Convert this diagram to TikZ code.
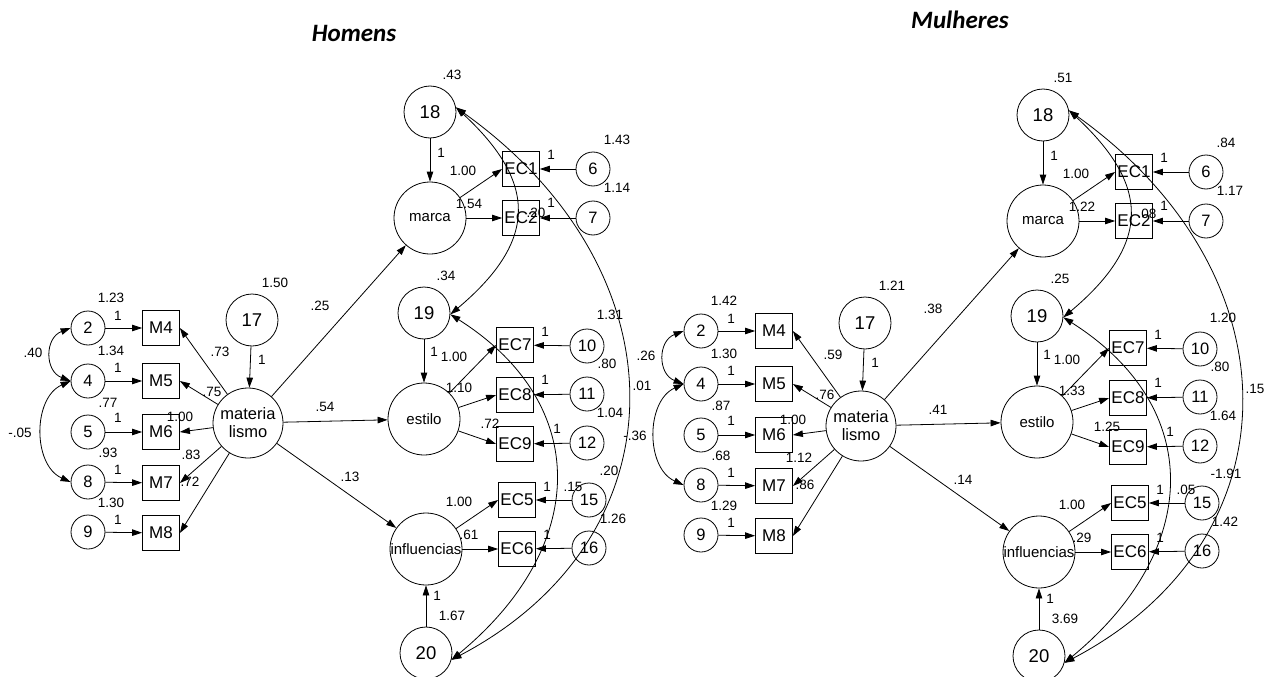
\documentclass[tikz,border=0pt]{standalone}
\usepackage{fontspec}
\setmainfont{Liberation Sans}
\newfontfamily\titlefont{Carlito}
\usetikzlibrary{arrows.meta}

\newcommand{\semmodel}[1]{%
  \node[err] (#1e2) at (88,328) {2};
  \node[err] (#1e4) at (88,381) {4};
  \node[err] (#1e5) at (88,432) {5};
  \node[err] (#1e8) at (88,482) {8};
  \node[err] (#1e9) at (88,532) {9};
  \node[obs] (#1M4) at (161,328) {M4};
  \node[obs] (#1M5) at (161,381) {M5};
  \node[obs] (#1M6) at (161,432) {M6};
  \node[obs] (#1M7) at (161,483) {M7};
  \node[obs] (#1M8) at (161,533) {M8};
  \node[lat, minimum size=70pt, font=\fontsize{16.5}{18}\selectfont] (#1mat) at (248,423) {materia\\lismo};
  \node[dist] (#1d17) at (252,320) {17};
  \node[dist] (#1d18) at (430,112) {18};
  \node[lat] (#1marca) at (430,218) {marca};
  \node[obs] (#1EC1) at (521,169) {EC1};
  \node[obs] (#1EC2) at (521,218) {EC2};
  \node[err] (#1e6) at (593,169) {6};
  \node[err] (#1e7) at (593,218) {7};
  \node[dist] (#1d19) at (424,313) {19};
  \node[lat] (#1estilo) at (424,419) {estilo};
  \node[obs] (#1EC7) at (515,345) {EC7};
  \node[obs] (#1EC8) at (515,395) {EC8};
  \node[obs] (#1EC9) at (515,444) {EC9};
  \node[err] (#1e10) at (587,346) {10};
  \node[err] (#1e11) at (587,394) {11};
  \node[err] (#1e12) at (587,443) {12};
  \node[lat] (#1inf) at (426,549) {influencias};
  \node[obs] (#1EC5) at (517,500) {EC5};
  \node[obs] (#1EC6) at (517,549) {EC6};
  \node[err] (#1e15) at (589,500) {15};
  \node[err] (#1e16) at (589,548) {16};
  \node[dist] (#1d20) at (426,653) {20};

  \draw[arr] (#1e2) -- (#1M4);
  \draw[arr] (#1e4) -- (#1M5);
  \draw[arr] (#1e5) -- (#1M6);
  \draw[arr] (#1e8) -- (#1M7);
  \draw[arr] (#1e9) -- (#1M8);
  \draw[arr] (#1mat) -- (#1M4.east);
  \draw[arr] (#1mat) -- (#1M5.east);
  \draw[arr] (#1mat) -- (#1M6.east);
  \draw[arr] (#1mat) -- (#1M7.east);
  \draw[arr] (#1mat) -- (#1M8.east);
  \draw[arr] (#1d17) -- (#1mat);
  \draw[arr] (#1mat) -- (#1marca);
  \draw[arr] (#1mat) -- (#1estilo);
  \draw[arr] (#1mat) -- (#1inf);
  \draw[arr] (#1d18) -- (#1marca);
  \draw[arr] (#1marca) -- (#1EC1.west);
  \draw[arr] (#1marca) -- (#1EC2.west);
  \draw[arr] (#1e6) -- (#1EC1);
  \draw[arr] (#1e7) -- (#1EC2);
  \draw[arr] (#1d19) -- (#1estilo);
  \draw[arr] (#1estilo) -- (#1EC7.west);
  \draw[arr] (#1estilo) -- (#1EC8.west);
  \draw[arr] (#1estilo) -- (#1EC9.west);
  \draw[arr] (#1e10) -- (#1EC7);
  \draw[arr] (#1e11) -- (#1EC8);
  \draw[arr] (#1e12) -- (#1EC9);
  \draw[arr] (#1d20) -- (#1inf);
  \draw[arr] (#1inf) -- (#1EC5.west);
  \draw[arr] (#1inf) -- (#1EC6.west);
  \draw[arr] (#1e15) -- (#1EC5);
  \draw[arr] (#1e16) -- (#1EC6);
  \draw[cov] (#1e2.west) .. controls +(-26,10) and +(-26,-10) .. (#1e4.west);
  \draw[cov] (#1e4.west) .. controls +(-38,17) and +(-38,-17) .. (#1e8.west);
  \draw[cov] (#1d18.10) .. controls +(81,75) and +(88,-74) .. (#1d19.-3);
  \draw[cov] (#1d18.10) .. controls +(232,166) and +(232,-122) .. (#1d20.-15);
  \draw[cov] (#1d19.-3) .. controls +(142,90) and +(137,-113) .. (#1d20.-15);
}

\begin{document}
\begin{tikzpicture}[
        x=1pt, y=-1pt, line width=0.8pt,
        err/.style={draw, circle, minimum size=34pt, inner sep=0pt,
                    font=\fontsize{16.5}{18}\selectfont},
        dist/.style={draw, circle, minimum size=52pt, inner sep=0pt,
                    font=\fontsize{18.5}{20}\selectfont},
        lat/.style={draw, circle, minimum size=72pt, inner sep=0pt,
                    align=center, font=\fontsize{15}{18}\selectfont},
        obs/.style={draw, minimum width=37pt, minimum height=35pt,
                    inner sep=0pt, font=\fontsize{17}{18}\selectfont},
        val/.style={inner sep=0pt, font=\fontsize{13.5}{15}\selectfont},
        title/.style={font=\titlefont\bfseries\itshape\fontsize{25}{28}\selectfont},
        arr/.style={-{Triangle[length=10pt, width=6.5pt]}},
        cov/.style={{Triangle[length=10pt, width=6.5pt]}-{Triangle[length=10pt, width=6.5pt]}}
    ]
        \useasboundingbox (0,0) rectangle (1264,677);
        \node[title] (homens) at (354,33) {Homens};
        \node[title] (mulheres) at (960,20) {Mulheres};

        \begin{scope}
        \semmodel{h}
        \node[val] (hv2) at (111,298) {1.23};
        \node[val] (hv4) at (111,351) {1.34};
        \node[val] (hv5) at (108,403) {.77};
        \node[val] (hv8) at (108,453) {.93};
        \node[val] (hv9) at (111,503) {1.30};
        \node[val] (hw2) at (118,316) {1};
        \node[val] (hw4) at (118,368) {1};
        \node[val] (hw5) at (118,418) {1};
        \node[val] (hw8) at (118,470) {1};
        \node[val] (hw9) at (118,520) {1};
        \node[val] (hc24) at (33,353) {.40};
        \node[val] (hc48) at (20,433) {-.05};
        \node[val] (hlM4) at (220,352) {.73};
        \node[val] (hlM5) at (212,392) {.75};
        \node[val] (hlM6) at (180,417) {1.00};
        \node[val] (hlM7) at (191,455) {.83};
        \node[val] (hlM8) at (190,482) {.72};
        \node[val] (hv17) at (275,283) {1.50};
        \node[val] (hw17) at (262,360) {1};
        \node[val] (hbmarca) at (320,306) {.25};
        \node[val] (hbestilo) at (325,407) {.54};
        \node[val] (hbinf) at (350,477) {.13};
        \node[val] (hv18) at (452,75) {.43};
        \node[val] (hw18) at (441,153) {1};
        \node[val] (hlEC1) at (463,171) {1.00};
        \node[val] (hlEC2) at (469,204) {1.54};
        \node[val] (hc1819) at (536,213) {.20};
        \node[val] (hw6) at (551,155) {1};
        \node[val] (hw7) at (551,203) {1};
        \node[val] (hv6) at (617,140) {1.43};
        \node[val] (hv7) at (617,188) {1.14};
        \node[val] (hv19) at (446,276) {.34};
        \node[val] (hw19) at (434,352) {1};
        \node[val] (hlEC7) at (454,357) {1.00};
        \node[val] (hlEC8) at (459,388) {1.10};
        \node[val] (hlEC9) at (490,424) {.72};
        \node[val] (hw10) at (545,332) {1};
        \node[val] (hw11) at (545,380) {1};
        \node[val] (hw12) at (557,429) {1};
        \node[val] (hw15) at (547,487) {1};
        \node[val] (hw16) at (547,535) {1};
        \node[val] (hv10) at (610,315) {1.31};
        \node[val] (hv11) at (607,364) {.80};
        \node[val] (hv12) at (610,413) {1.04};
        \node[val] (hv15) at (609,471) {.20};
        \node[val] (hv16) at (613,519) {1.26};
        \node[val] (hc1920) at (573,487) {.15};
        \node[val] (hc1820) at (642,386) {.01};
        \node[val] (hlEC5) at (459,502) {1.00};
        \node[val] (hlEC6) at (469,535) {.61};
        \node[val] (hw20) at (437,596) {1};
        \node[val] (hv20) at (452,616) {1.67};
        \end{scope}

        \begin{scope}[shift={(613,3)}]
        \semmodel{m}
        \node[val] (mv2) at (111,298) {1.42};
        \node[val] (mv4) at (111,351) {1.30};
        \node[val] (mv5) at (108,403) {.87};
        \node[val] (mv8) at (108,453) {.68};
        \node[val] (mv9) at (111,503) {1.29};
        \node[val] (mw2) at (118,316) {1};
        \node[val] (mw4) at (118,368) {1};
        \node[val] (mw5) at (118,418) {1};
        \node[val] (mw8) at (118,470) {1};
        \node[val] (mw9) at (118,520) {1};
        \node[val] (mc24) at (33,353) {.26};
        \node[val] (mc48) at (22,433) {-.36};
        \node[val] (mlM4) at (220,352) {.59};
        \node[val] (mlM5) at (212,392) {.76};
        \node[val] (mlM6) at (180,417) {1.00};
        \node[val] (mlM7) at (186,455) {1.12};
        \node[val] (mlM8) at (192,482) {.86};
        \node[val] (mv17) at (279,283) {1.21};
        \node[val] (mw17) at (262,360) {1};
        \node[val] (mbmarca) at (320,306) {.38};
        \node[val] (mbestilo) at (325,407) {.41};
        \node[val] (mbinf) at (350,477) {.14};
        \node[val] (mv18) at (450,75) {.51};
        \node[val] (mw18) at (441,153) {1};
        \node[val] (mlEC1) at (463,171) {1.00};
        \node[val] (mlEC2) at (469,204) {1.22};
        \node[val] (mc1819) at (534,211) {.08};
        \node[val] (mw6) at (551,155) {1};
        \node[val] (mw7) at (551,203) {1};
        \node[val] (mv6) at (613,140) {.84};
        \node[val] (mv7) at (617,188) {1.17};
        \node[val] (mv19) at (447,276) {.25};
        \node[val] (mw19) at (434,352) {1};
        \node[val] (mlEC7) at (454,357) {1.00};
        \node[val] (mlEC8) at (459,388) {1.33};
        \node[val] (mlEC9) at (494,424) {1.25};
        \node[val] (mw10) at (545,332) {1};
        \node[val] (mw11) at (545,380) {1};
        \node[val] (mw12) at (557,429) {1};
        \node[val] (mw15) at (547,487) {1};
        \node[val] (mw16) at (547,535) {1};
        \node[val] (mv10) at (610,315) {1.20};
        \node[val] (mv11) at (607,364) {.80};
        \node[val] (mv12) at (610,413) {1.64};
        \node[val] (mv15) at (613,471) {-1.91};
        \node[val] (mv16) at (612,519) {1.42};
        \node[val] (mc1920) at (573,487) {.05};
        \node[val] (mc1820) at (642,386) {.15};
        \node[val] (mlEC5) at (459,502) {1.00};
        \node[val] (mlEC6) at (469,535) {.29};
        \node[val] (mw20) at (437,596) {1};
        \node[val] (mv20) at (452,616) {3.69};
        \end{scope}
    \end{tikzpicture}
\end{document}
